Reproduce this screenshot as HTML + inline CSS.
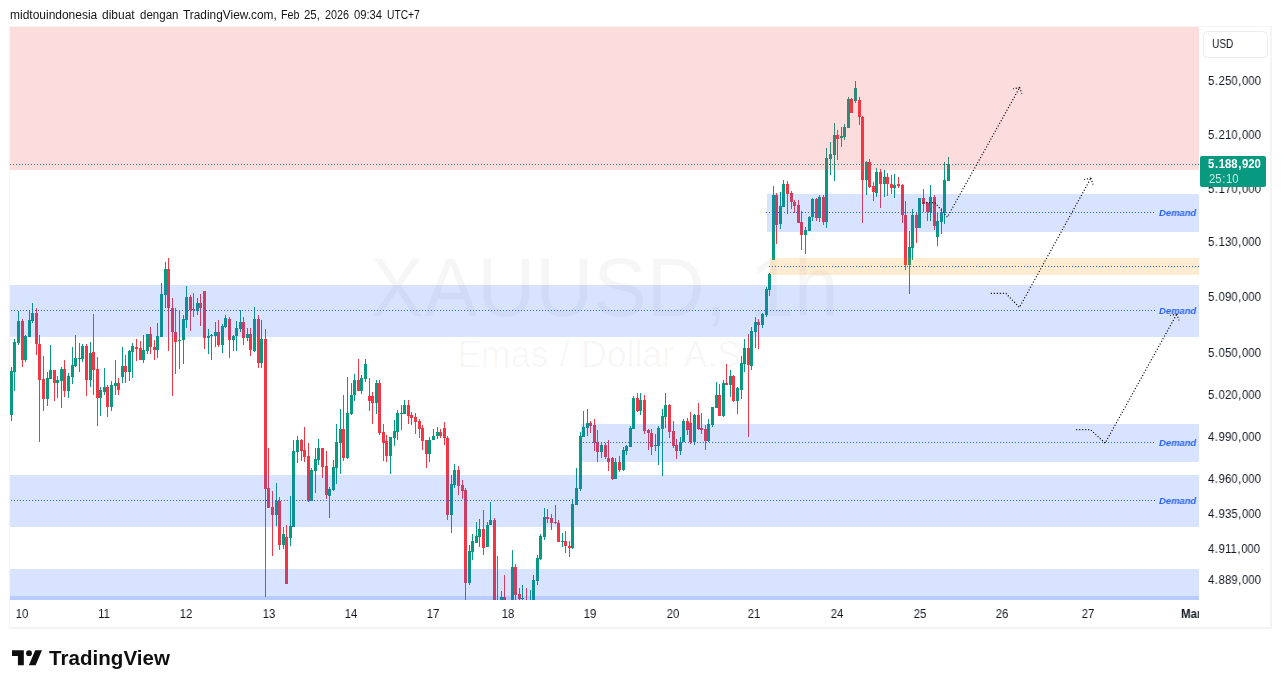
<!DOCTYPE html>
<html><head><meta charset="utf-8"><title>XAUUSD chart</title>
<style>
html,body{margin:0;padding:0;background:#fff;}
body{width:1281px;height:688px;position:relative;overflow:hidden;font-family:"Liberation Sans",sans-serif;color:#131722;}
.abs{position:absolute;}
.hdr,.pl,.tl,.dm,.usd span,.last,.brand{will-change:transform;}
.hdr{left:10px;top:6.8px;font-size:12px;line-height:16px;height:16px;width:500px;white-space:nowrap;color:#151515;}
.hdr span{position:absolute;top:0;transform-origin:0 0;white-space:nowrap;}
.frame{left:9px;top:26px;width:1260px;height:600px;border:solid #f4f4f4;border-width:1px 2px 2px 1px;box-sizing:content-box;}
.pane{left:10px;top:27px;width:1189px;height:573px;overflow:hidden;}
.zone{position:absolute;}
.pl{position:absolute;left:1208.3px;font-size:12px;line-height:14px;height:14px;white-space:nowrap;color:#131722;transform:scaleX(0.943);transform-origin:0 0;}
.p{margin:0 0.67px;}
.tl{position:absolute;top:606.6px;font-size:12px;line-height:14px;height:14px;white-space:nowrap;color:#131722;transform:translateX(-50%) scaleX(0.943);}
.dm{position:absolute;left:1158.5px;font-size:9.7px;line-height:12px;height:12px;font-weight:bold;font-style:italic;color:#2962ff;white-space:nowrap;transform:scaleX(0.975);transform-origin:0 0;}
.wm{position:absolute;left:10px;width:1189px;text-align:center;color:rgba(0,0,0,0.035);white-space:nowrap;}
.usd{left:1202.5px;top:30.5px;width:63px;height:25px;border:1px solid #ececf0;border-radius:4.5px;}
.usd span{position:absolute;left:8px;top:5.3px;font-size:12px;line-height:14px;transform:scaleX(0.84);transform-origin:0 0;color:#131722;}
.last{left:1200px;top:156px;width:66px;height:31px;background:#089981;border-radius:2px;color:#fff;}
.last b{position:absolute;left:8.3px;top:1.0px;font-size:12px;line-height:14px;font-weight:bold;transform:scaleX(0.943);transform-origin:0 0;white-space:nowrap;}
.last i{position:absolute;left:8.5px;top:15.5px;font-size:12px;line-height:14px;font-style:normal;color:rgba(255,255,255,0.78);transform:scaleX(0.943);transform-origin:0 0;white-space:nowrap;}
.logo{left:12px;top:646.7px;}
.brand{left:49px;top:645.5px;font-size:20.5px;line-height:24px;font-weight:bold;color:#0e0e0e;letter-spacing:0.05px;white-space:nowrap;}
</style></head><body>

<div class="abs hdr">
<span style="left:-0.1px;transform:scaleX(0.9986)">midtouindonesia</span>
<span style="left:92.0px;transform:scaleX(0.9982)">dibuat</span>
<span style="left:130.1px;transform:scaleX(0.9601)">dengan</span>
<span style="left:172.5px;transform:scaleX(0.9896)">TradingView.com,</span>
<span style="left:270.5px;transform:scaleX(0.8905)">Feb</span>
<span style="left:294.3px;transform:scaleX(0.9541)">25,</span>
<span style="left:314.6px;transform:scaleX(0.8993)">2026</span>
<span style="left:343.6px;transform:scaleX(0.9354)">09:34</span>
<span style="left:376.9px;transform:scaleX(0.8560)">UTC+7</span>
</div>
<div class="abs frame"></div>
<div class="abs pane">
<div class="wm" style="left:0;top:215.98px;font-size:80.3px;line-height:90px;transform:scaleY(1.05);transform-origin:0 72.82px">XAUUSD, 1h</div>
<div class="wm" style="left:-0.5px;top:307.70px;font-size:35.5px;word-spacing:1.7px;line-height:40px;transform:scaleY(1.05);transform-origin:0 32.30px">Emas / Dollar A.S.</div>
<svg class="abs" style="left:0;top:0" width="1189" height="573" viewBox="10 27 1189 573" shape-rendering="crispEdges">
<rect x="11" y="367" width="1" height="54" fill="#089981"/>
<rect x="10" y="371" width="3" height="44" fill="#089981"/>
<rect x="14" y="339" width="1" height="52" fill="#089981"/>
<rect x="13" y="342" width="3" height="30" fill="#089981"/>
<rect x="18" y="311" width="1" height="34" fill="#089981"/>
<rect x="17" y="321" width="3" height="22" fill="#089981"/>
<rect x="22" y="319" width="1" height="48" fill="#f23645"/>
<rect x="21" y="321" width="3" height="39" fill="#f23645"/>
<rect x="25" y="335" width="1" height="27" fill="#089981"/>
<rect x="24" y="336" width="3" height="24" fill="#089981"/>
<rect x="29" y="311" width="1" height="26" fill="#089981"/>
<rect x="28" y="320" width="3" height="17" fill="#089981"/>
<rect x="32" y="303" width="1" height="20" fill="#089981"/>
<rect x="31" y="313" width="3" height="8" fill="#089981"/>
<rect x="36" y="308" width="1" height="47" fill="#f23645"/>
<rect x="35" y="313" width="3" height="31" fill="#f23645"/>
<rect x="39" y="335" width="1" height="107" fill="#f23645"/>
<rect x="38" y="344" width="3" height="36" fill="#f23645"/>
<rect x="43" y="356" width="1" height="55" fill="#f23645"/>
<rect x="42" y="379" width="3" height="20" fill="#f23645"/>
<rect x="47" y="372" width="1" height="34" fill="#089981"/>
<rect x="46" y="378" width="3" height="21" fill="#089981"/>
<rect x="50" y="345" width="1" height="34" fill="#089981"/>
<rect x="49" y="370" width="3" height="9" fill="#089981"/>
<rect x="54" y="370" width="1" height="31" fill="#f23645"/>
<rect x="53" y="370" width="3" height="13" fill="#f23645"/>
<rect x="57" y="376" width="1" height="22" fill="#089981"/>
<rect x="56" y="380" width="3" height="3" fill="#089981"/>
<rect x="61" y="367" width="1" height="41" fill="#089981"/>
<rect x="60" y="369" width="3" height="12" fill="#089981"/>
<rect x="64" y="360" width="1" height="37" fill="#f23645"/>
<rect x="63" y="369" width="3" height="22" fill="#f23645"/>
<rect x="68" y="373" width="1" height="25" fill="#089981"/>
<rect x="67" y="376" width="3" height="15" fill="#089981"/>
<rect x="72" y="347" width="1" height="37" fill="#089981"/>
<rect x="71" y="365" width="3" height="12" fill="#089981"/>
<rect x="75" y="335" width="1" height="32" fill="#089981"/>
<rect x="74" y="358" width="3" height="8" fill="#089981"/>
<rect x="79" y="343" width="1" height="29" fill="#089981"/>
<rect x="78" y="358" width="3" height="1" fill="#089981"/>
<rect x="82" y="344" width="1" height="18" fill="#089981"/>
<rect x="81" y="346" width="3" height="13" fill="#089981"/>
<rect x="86" y="344" width="1" height="52" fill="#f23645"/>
<rect x="85" y="346" width="3" height="34" fill="#f23645"/>
<rect x="90" y="342" width="1" height="45" fill="#089981"/>
<rect x="89" y="353" width="3" height="27" fill="#089981"/>
<rect x="93" y="314" width="1" height="81" fill="#f23645"/>
<rect x="92" y="352" width="3" height="18" fill="#f23645"/>
<rect x="97" y="357" width="1" height="69" fill="#f23645"/>
<rect x="96" y="369" width="3" height="29" fill="#f23645"/>
<rect x="100" y="387" width="1" height="29" fill="#089981"/>
<rect x="99" y="390" width="3" height="8" fill="#089981"/>
<rect x="104" y="368" width="1" height="27" fill="#089981"/>
<rect x="103" y="387" width="3" height="5" fill="#089981"/>
<rect x="107" y="385" width="1" height="32" fill="#f23645"/>
<rect x="106" y="387" width="3" height="20" fill="#f23645"/>
<rect x="111" y="381" width="1" height="30" fill="#089981"/>
<rect x="110" y="385" width="3" height="22" fill="#089981"/>
<rect x="115" y="360" width="1" height="35" fill="#089981"/>
<rect x="114" y="383" width="3" height="3" fill="#089981"/>
<rect x="118" y="378" width="1" height="17" fill="#f23645"/>
<rect x="117" y="383" width="3" height="7" fill="#f23645"/>
<rect x="122" y="347" width="1" height="36" fill="#089981"/>
<rect x="121" y="366" width="3" height="11" fill="#089981"/>
<rect x="125" y="355" width="1" height="28" fill="#f23645"/>
<rect x="124" y="366" width="3" height="6" fill="#f23645"/>
<rect x="129" y="350" width="1" height="31" fill="#089981"/>
<rect x="128" y="351" width="3" height="21" fill="#089981"/>
<rect x="132" y="343" width="1" height="35" fill="#089981"/>
<rect x="131" y="346" width="3" height="6" fill="#089981"/>
<rect x="136" y="339" width="1" height="22" fill="#f23645"/>
<rect x="135" y="347" width="3" height="2" fill="#f23645"/>
<rect x="140" y="341" width="1" height="19" fill="#f23645"/>
<rect x="139" y="348" width="3" height="12" fill="#f23645"/>
<rect x="143" y="335" width="1" height="28" fill="#089981"/>
<rect x="142" y="350" width="3" height="10" fill="#089981"/>
<rect x="147" y="334" width="1" height="20" fill="#089981"/>
<rect x="146" y="334" width="3" height="17" fill="#089981"/>
<rect x="150" y="327" width="1" height="27" fill="#f23645"/>
<rect x="149" y="334" width="3" height="13" fill="#f23645"/>
<rect x="154" y="340" width="1" height="20" fill="#f23645"/>
<rect x="153" y="347" width="3" height="3" fill="#f23645"/>
<rect x="157" y="323" width="1" height="35" fill="#089981"/>
<rect x="156" y="336" width="3" height="14" fill="#089981"/>
<rect x="161" y="283" width="1" height="54" fill="#089981"/>
<rect x="160" y="294" width="3" height="43" fill="#089981"/>
<rect x="165" y="262" width="1" height="46" fill="#089981"/>
<rect x="164" y="269" width="3" height="26" fill="#089981"/>
<rect x="168" y="258" width="1" height="93" fill="#f23645"/>
<rect x="167" y="269" width="3" height="39" fill="#f23645"/>
<rect x="172" y="298" width="1" height="98" fill="#f23645"/>
<rect x="171" y="308" width="3" height="24" fill="#f23645"/>
<rect x="175" y="308" width="1" height="66" fill="#f23645"/>
<rect x="174" y="332" width="3" height="10" fill="#f23645"/>
<rect x="179" y="310" width="1" height="59" fill="#089981"/>
<rect x="178" y="340" width="3" height="1" fill="#089981"/>
<rect x="183" y="315" width="1" height="49" fill="#089981"/>
<rect x="182" y="319" width="3" height="21" fill="#089981"/>
<rect x="186" y="286" width="1" height="42" fill="#089981"/>
<rect x="185" y="297" width="3" height="23" fill="#089981"/>
<rect x="190" y="295" width="1" height="36" fill="#f23645"/>
<rect x="189" y="297" width="3" height="13" fill="#f23645"/>
<rect x="193" y="293" width="1" height="24" fill="#f23645"/>
<rect x="192" y="309" width="3" height="1" fill="#f23645"/>
<rect x="197" y="298" width="1" height="17" fill="#089981"/>
<rect x="196" y="303" width="3" height="8" fill="#089981"/>
<rect x="200" y="294" width="1" height="32" fill="#f23645"/>
<rect x="199" y="303" width="3" height="5" fill="#f23645"/>
<rect x="204" y="291" width="1" height="58" fill="#f23645"/>
<rect x="203" y="291" width="3" height="47" fill="#f23645"/>
<rect x="208" y="329" width="1" height="25" fill="#089981"/>
<rect x="207" y="336" width="3" height="2" fill="#089981"/>
<rect x="211" y="334" width="1" height="26" fill="#089981"/>
<rect x="210" y="335" width="3" height="1" fill="#089981"/>
<rect x="215" y="322" width="1" height="25" fill="#089981"/>
<rect x="214" y="332" width="3" height="4" fill="#089981"/>
<rect x="218" y="320" width="1" height="27" fill="#f23645"/>
<rect x="217" y="332" width="3" height="13" fill="#f23645"/>
<rect x="222" y="324" width="1" height="29" fill="#089981"/>
<rect x="221" y="326" width="3" height="19" fill="#089981"/>
<rect x="225" y="315" width="1" height="13" fill="#089981"/>
<rect x="224" y="318" width="3" height="9" fill="#089981"/>
<rect x="229" y="317" width="1" height="41" fill="#f23645"/>
<rect x="228" y="319" width="3" height="21" fill="#f23645"/>
<rect x="233" y="335" width="1" height="16" fill="#089981"/>
<rect x="232" y="336" width="3" height="4" fill="#089981"/>
<rect x="236" y="321" width="1" height="30" fill="#089981"/>
<rect x="235" y="328" width="3" height="8" fill="#089981"/>
<rect x="240" y="310" width="1" height="22" fill="#089981"/>
<rect x="239" y="322" width="3" height="7" fill="#089981"/>
<rect x="243" y="317" width="1" height="28" fill="#f23645"/>
<rect x="242" y="322" width="3" height="16" fill="#f23645"/>
<rect x="247" y="328" width="1" height="13" fill="#089981"/>
<rect x="246" y="334" width="3" height="4" fill="#089981"/>
<rect x="250" y="328" width="1" height="28" fill="#f23645"/>
<rect x="249" y="334" width="3" height="16" fill="#f23645"/>
<rect x="254" y="307" width="1" height="45" fill="#089981"/>
<rect x="253" y="319" width="3" height="32" fill="#089981"/>
<rect x="258" y="315" width="1" height="53" fill="#f23645"/>
<rect x="257" y="319" width="3" height="44" fill="#f23645"/>
<rect x="261" y="320" width="1" height="48" fill="#089981"/>
<rect x="260" y="339" width="3" height="24" fill="#089981"/>
<rect x="265" y="329" width="1" height="268" fill="#f23645"/>
<rect x="264" y="339" width="3" height="150" fill="#f23645"/>
<rect x="268" y="448" width="1" height="60" fill="#f23645"/>
<rect x="267" y="488" width="3" height="20" fill="#f23645"/>
<rect x="272" y="491" width="1" height="65" fill="#f23645"/>
<rect x="271" y="507" width="3" height="8" fill="#f23645"/>
<rect x="276" y="483" width="1" height="43" fill="#089981"/>
<rect x="275" y="501" width="3" height="14" fill="#089981"/>
<rect x="279" y="497" width="1" height="53" fill="#f23645"/>
<rect x="278" y="501" width="3" height="44" fill="#f23645"/>
<rect x="283" y="527" width="1" height="22" fill="#089981"/>
<rect x="282" y="534" width="3" height="11" fill="#089981"/>
<rect x="286" y="525" width="1" height="59" fill="#f23645"/>
<rect x="285" y="537" width="3" height="47" fill="#f23645"/>
<rect x="290" y="496" width="1" height="50" fill="#089981"/>
<rect x="289" y="526" width="3" height="12" fill="#089981"/>
<rect x="293" y="440" width="1" height="87" fill="#089981"/>
<rect x="292" y="451" width="3" height="76" fill="#089981"/>
<rect x="297" y="436" width="1" height="27" fill="#089981"/>
<rect x="296" y="440" width="3" height="12" fill="#089981"/>
<rect x="301" y="439" width="1" height="22" fill="#f23645"/>
<rect x="300" y="440" width="3" height="11" fill="#f23645"/>
<rect x="304" y="427" width="1" height="35" fill="#f23645"/>
<rect x="303" y="450" width="3" height="7" fill="#f23645"/>
<rect x="308" y="443" width="1" height="59" fill="#f23645"/>
<rect x="307" y="456" width="3" height="45" fill="#f23645"/>
<rect x="311" y="468" width="1" height="33" fill="#089981"/>
<rect x="310" y="470" width="3" height="31" fill="#089981"/>
<rect x="315" y="448" width="1" height="45" fill="#089981"/>
<rect x="314" y="459" width="3" height="12" fill="#089981"/>
<rect x="318" y="439" width="1" height="26" fill="#089981"/>
<rect x="317" y="448" width="3" height="12" fill="#089981"/>
<rect x="322" y="448" width="1" height="30" fill="#f23645"/>
<rect x="321" y="448" width="3" height="19" fill="#f23645"/>
<rect x="326" y="451" width="1" height="48" fill="#f23645"/>
<rect x="325" y="466" width="3" height="29" fill="#f23645"/>
<rect x="329" y="487" width="1" height="31" fill="#089981"/>
<rect x="328" y="489" width="3" height="7" fill="#089981"/>
<rect x="333" y="460" width="1" height="31" fill="#089981"/>
<rect x="332" y="467" width="3" height="23" fill="#089981"/>
<rect x="336" y="424" width="1" height="60" fill="#089981"/>
<rect x="335" y="442" width="3" height="26" fill="#089981"/>
<rect x="340" y="409" width="1" height="65" fill="#089981"/>
<rect x="339" y="429" width="3" height="14" fill="#089981"/>
<rect x="343" y="395" width="1" height="66" fill="#f23645"/>
<rect x="342" y="429" width="3" height="29" fill="#f23645"/>
<rect x="347" y="377" width="1" height="82" fill="#089981"/>
<rect x="346" y="413" width="3" height="45" fill="#089981"/>
<rect x="351" y="383" width="1" height="32" fill="#089981"/>
<rect x="350" y="395" width="3" height="19" fill="#089981"/>
<rect x="354" y="374" width="1" height="27" fill="#089981"/>
<rect x="353" y="380" width="3" height="15" fill="#089981"/>
<rect x="358" y="359" width="1" height="32" fill="#f23645"/>
<rect x="357" y="380" width="3" height="11" fill="#f23645"/>
<rect x="361" y="375" width="1" height="19" fill="#089981"/>
<rect x="360" y="378" width="3" height="13" fill="#089981"/>
<rect x="365" y="359" width="1" height="23" fill="#089981"/>
<rect x="364" y="364" width="3" height="15" fill="#089981"/>
<rect x="369" y="378" width="1" height="33" fill="#f23645"/>
<rect x="368" y="396" width="3" height="5" fill="#f23645"/>
<rect x="372" y="392" width="1" height="32" fill="#f23645"/>
<rect x="371" y="396" width="3" height="7" fill="#f23645"/>
<rect x="376" y="380" width="1" height="34" fill="#089981"/>
<rect x="375" y="383" width="3" height="20" fill="#089981"/>
<rect x="379" y="380" width="1" height="55" fill="#f23645"/>
<rect x="378" y="383" width="3" height="50" fill="#f23645"/>
<rect x="383" y="424" width="1" height="37" fill="#f23645"/>
<rect x="382" y="432" width="3" height="11" fill="#f23645"/>
<rect x="386" y="435" width="1" height="27" fill="#f23645"/>
<rect x="385" y="441" width="3" height="15" fill="#f23645"/>
<rect x="390" y="437" width="1" height="37" fill="#089981"/>
<rect x="389" y="437" width="3" height="19" fill="#089981"/>
<rect x="394" y="420" width="1" height="26" fill="#089981"/>
<rect x="393" y="431" width="3" height="7" fill="#089981"/>
<rect x="397" y="410" width="1" height="30" fill="#089981"/>
<rect x="396" y="413" width="3" height="19" fill="#089981"/>
<rect x="401" y="405" width="1" height="25" fill="#089981"/>
<rect x="400" y="413" width="3" height="1" fill="#089981"/>
<rect x="404" y="400" width="1" height="14" fill="#089981"/>
<rect x="403" y="405" width="3" height="9" fill="#089981"/>
<rect x="408" y="400" width="1" height="24" fill="#f23645"/>
<rect x="407" y="405" width="3" height="11" fill="#f23645"/>
<rect x="411" y="412" width="1" height="13" fill="#f23645"/>
<rect x="410" y="415" width="3" height="3" fill="#f23645"/>
<rect x="415" y="413" width="1" height="21" fill="#f23645"/>
<rect x="414" y="417" width="3" height="5" fill="#f23645"/>
<rect x="419" y="419" width="1" height="19" fill="#f23645"/>
<rect x="418" y="421" width="3" height="8" fill="#f23645"/>
<rect x="422" y="425" width="1" height="25" fill="#f23645"/>
<rect x="421" y="428" width="3" height="13" fill="#f23645"/>
<rect x="426" y="440" width="1" height="28" fill="#f23645"/>
<rect x="425" y="440" width="3" height="14" fill="#f23645"/>
<rect x="429" y="437" width="1" height="25" fill="#089981"/>
<rect x="428" y="440" width="3" height="14" fill="#089981"/>
<rect x="433" y="429" width="1" height="11" fill="#089981"/>
<rect x="432" y="436" width="3" height="4" fill="#089981"/>
<rect x="437" y="427" width="1" height="12" fill="#089981"/>
<rect x="436" y="432" width="3" height="4" fill="#089981"/>
<rect x="440" y="429" width="1" height="9" fill="#f23645"/>
<rect x="439" y="432" width="3" height="4" fill="#f23645"/>
<rect x="444" y="422" width="1" height="23" fill="#f23645"/>
<rect x="443" y="428" width="3" height="10" fill="#f23645"/>
<rect x="447" y="436" width="1" height="84" fill="#f23645"/>
<rect x="446" y="438" width="3" height="77" fill="#f23645"/>
<rect x="451" y="475" width="1" height="58" fill="#089981"/>
<rect x="450" y="484" width="3" height="31" fill="#089981"/>
<rect x="454" y="464" width="1" height="24" fill="#089981"/>
<rect x="453" y="470" width="3" height="15" fill="#089981"/>
<rect x="458" y="466" width="1" height="29" fill="#f23645"/>
<rect x="457" y="470" width="3" height="16" fill="#f23645"/>
<rect x="462" y="480" width="1" height="19" fill="#f23645"/>
<rect x="461" y="485" width="3" height="6" fill="#f23645"/>
<rect x="465" y="488" width="1" height="112" fill="#f23645"/>
<rect x="464" y="490" width="3" height="93" fill="#f23645"/>
<rect x="469" y="545" width="1" height="40" fill="#089981"/>
<rect x="468" y="551" width="3" height="32" fill="#089981"/>
<rect x="472" y="534" width="1" height="26" fill="#089981"/>
<rect x="471" y="541" width="3" height="11" fill="#089981"/>
<rect x="476" y="522" width="1" height="21" fill="#089981"/>
<rect x="475" y="536" width="3" height="7" fill="#089981"/>
<rect x="479" y="519" width="1" height="28" fill="#089981"/>
<rect x="478" y="529" width="3" height="8" fill="#089981"/>
<rect x="483" y="510" width="1" height="45" fill="#f23645"/>
<rect x="482" y="529" width="3" height="19" fill="#f23645"/>
<rect x="487" y="522" width="1" height="25" fill="#089981"/>
<rect x="486" y="525" width="3" height="22" fill="#089981"/>
<rect x="490" y="502" width="1" height="23" fill="#089981"/>
<rect x="489" y="520" width="3" height="5" fill="#089981"/>
<rect x="494" y="518" width="1" height="85" fill="#f23645"/>
<rect x="493" y="520" width="3" height="83" fill="#f23645"/>
<rect x="497" y="556" width="1" height="47" fill="#f23645"/>
<rect x="496" y="602" width="3" height="1" fill="#f23645"/>
<rect x="501" y="591" width="1" height="12" fill="#089981"/>
<rect x="500" y="597" width="3" height="6" fill="#089981"/>
<rect x="504" y="575" width="1" height="28" fill="#f23645"/>
<rect x="503" y="597" width="3" height="6" fill="#f23645"/>
<rect x="512" y="550" width="1" height="53" fill="#089981"/>
<rect x="511" y="567" width="3" height="36" fill="#089981"/>
<rect x="515" y="564" width="1" height="39" fill="#f23645"/>
<rect x="514" y="567" width="3" height="28" fill="#f23645"/>
<rect x="519" y="588" width="1" height="15" fill="#f23645"/>
<rect x="518" y="594" width="3" height="5" fill="#f23645"/>
<rect x="522" y="585" width="1" height="18" fill="#089981"/>
<rect x="521" y="598" width="3" height="1" fill="#089981"/>
<rect x="526" y="588" width="1" height="15" fill="#f23645"/>
<rect x="525" y="601" width="3" height="2" fill="#f23645"/>
<rect x="530" y="590" width="1" height="13" fill="#089981"/>
<rect x="529" y="601" width="3" height="2" fill="#089981"/>
<rect x="533" y="575" width="1" height="28" fill="#089981"/>
<rect x="532" y="580" width="3" height="23" fill="#089981"/>
<rect x="537" y="555" width="1" height="30" fill="#089981"/>
<rect x="536" y="558" width="3" height="23" fill="#089981"/>
<rect x="540" y="534" width="1" height="26" fill="#089981"/>
<rect x="539" y="536" width="3" height="23" fill="#089981"/>
<rect x="544" y="508" width="1" height="32" fill="#089981"/>
<rect x="543" y="517" width="3" height="20" fill="#089981"/>
<rect x="547" y="509" width="1" height="14" fill="#f23645"/>
<rect x="546" y="517" width="3" height="2" fill="#f23645"/>
<rect x="551" y="514" width="1" height="16" fill="#f23645"/>
<rect x="550" y="518" width="3" height="5" fill="#f23645"/>
<rect x="555" y="505" width="1" height="19" fill="#f23645"/>
<rect x="554" y="522" width="3" height="1" fill="#f23645"/>
<rect x="558" y="520" width="1" height="22" fill="#f23645"/>
<rect x="557" y="523" width="3" height="19" fill="#f23645"/>
<rect x="562" y="533" width="1" height="14" fill="#089981"/>
<rect x="561" y="541" width="3" height="1" fill="#089981"/>
<rect x="565" y="531" width="1" height="22" fill="#f23645"/>
<rect x="564" y="541" width="3" height="5" fill="#f23645"/>
<rect x="569" y="541" width="1" height="16" fill="#f23645"/>
<rect x="568" y="546" width="3" height="2" fill="#f23645"/>
<rect x="572" y="499" width="1" height="50" fill="#089981"/>
<rect x="571" y="504" width="3" height="44" fill="#089981"/>
<rect x="576" y="468" width="1" height="37" fill="#089981"/>
<rect x="575" y="488" width="3" height="17" fill="#089981"/>
<rect x="580" y="432" width="1" height="59" fill="#089981"/>
<rect x="579" y="436" width="3" height="53" fill="#089981"/>
<rect x="583" y="411" width="1" height="26" fill="#089981"/>
<rect x="582" y="427" width="3" height="10" fill="#089981"/>
<rect x="587" y="409" width="1" height="27" fill="#089981"/>
<rect x="586" y="423" width="3" height="5" fill="#089981"/>
<rect x="590" y="421" width="1" height="12" fill="#f23645"/>
<rect x="589" y="423" width="3" height="3" fill="#f23645"/>
<rect x="594" y="419" width="1" height="32" fill="#f23645"/>
<rect x="593" y="425" width="3" height="18" fill="#f23645"/>
<rect x="597" y="430" width="1" height="32" fill="#f23645"/>
<rect x="596" y="442" width="3" height="10" fill="#f23645"/>
<rect x="601" y="442" width="1" height="16" fill="#089981"/>
<rect x="600" y="445" width="3" height="7" fill="#089981"/>
<rect x="605" y="443" width="1" height="16" fill="#f23645"/>
<rect x="604" y="445" width="3" height="12" fill="#f23645"/>
<rect x="608" y="440" width="1" height="31" fill="#f23645"/>
<rect x="607" y="458" width="3" height="4" fill="#f23645"/>
<rect x="612" y="457" width="1" height="23" fill="#f23645"/>
<rect x="611" y="458" width="3" height="21" fill="#f23645"/>
<rect x="615" y="458" width="1" height="21" fill="#089981"/>
<rect x="614" y="462" width="3" height="17" fill="#089981"/>
<rect x="619" y="456" width="1" height="16" fill="#f23645"/>
<rect x="618" y="462" width="3" height="8" fill="#f23645"/>
<rect x="623" y="447" width="1" height="24" fill="#089981"/>
<rect x="622" y="450" width="3" height="20" fill="#089981"/>
<rect x="626" y="445" width="1" height="10" fill="#089981"/>
<rect x="625" y="446" width="3" height="5" fill="#089981"/>
<rect x="630" y="426" width="1" height="21" fill="#089981"/>
<rect x="629" y="428" width="3" height="19" fill="#089981"/>
<rect x="633" y="396" width="1" height="33" fill="#089981"/>
<rect x="632" y="398" width="3" height="31" fill="#089981"/>
<rect x="637" y="393" width="1" height="19" fill="#f23645"/>
<rect x="636" y="398" width="3" height="13" fill="#f23645"/>
<rect x="640" y="393" width="1" height="22" fill="#089981"/>
<rect x="639" y="400" width="3" height="11" fill="#089981"/>
<rect x="644" y="395" width="1" height="39" fill="#f23645"/>
<rect x="643" y="400" width="3" height="31" fill="#f23645"/>
<rect x="648" y="429" width="1" height="21" fill="#f23645"/>
<rect x="647" y="430" width="3" height="3" fill="#f23645"/>
<rect x="651" y="429" width="1" height="26" fill="#f23645"/>
<rect x="650" y="433" width="3" height="14" fill="#f23645"/>
<rect x="655" y="434" width="1" height="17" fill="#089981"/>
<rect x="654" y="445" width="3" height="1" fill="#089981"/>
<rect x="658" y="426" width="1" height="39" fill="#089981"/>
<rect x="657" y="428" width="3" height="18" fill="#089981"/>
<rect x="662" y="409" width="1" height="67" fill="#089981"/>
<rect x="661" y="416" width="3" height="13" fill="#089981"/>
<rect x="665" y="393" width="1" height="35" fill="#089981"/>
<rect x="664" y="405" width="3" height="12" fill="#089981"/>
<rect x="669" y="404" width="1" height="34" fill="#f23645"/>
<rect x="668" y="405" width="3" height="27" fill="#f23645"/>
<rect x="673" y="421" width="1" height="27" fill="#f23645"/>
<rect x="672" y="431" width="3" height="15" fill="#f23645"/>
<rect x="676" y="439" width="1" height="20" fill="#f23645"/>
<rect x="675" y="445" width="3" height="6" fill="#f23645"/>
<rect x="680" y="437" width="1" height="18" fill="#089981"/>
<rect x="679" y="442" width="3" height="9" fill="#089981"/>
<rect x="683" y="419" width="1" height="23" fill="#089981"/>
<rect x="682" y="421" width="3" height="21" fill="#089981"/>
<rect x="687" y="418" width="1" height="17" fill="#f23645"/>
<rect x="686" y="421" width="3" height="9" fill="#f23645"/>
<rect x="690" y="412" width="1" height="32" fill="#f23645"/>
<rect x="689" y="423" width="3" height="19" fill="#f23645"/>
<rect x="694" y="414" width="1" height="31" fill="#089981"/>
<rect x="693" y="415" width="3" height="27" fill="#089981"/>
<rect x="698" y="403" width="1" height="27" fill="#f23645"/>
<rect x="697" y="415" width="3" height="14" fill="#f23645"/>
<rect x="701" y="413" width="1" height="21" fill="#f23645"/>
<rect x="700" y="428" width="3" height="2" fill="#f23645"/>
<rect x="705" y="425" width="1" height="25" fill="#f23645"/>
<rect x="704" y="429" width="3" height="12" fill="#f23645"/>
<rect x="708" y="419" width="1" height="23" fill="#089981"/>
<rect x="707" y="424" width="3" height="17" fill="#089981"/>
<rect x="712" y="407" width="1" height="20" fill="#089981"/>
<rect x="711" y="407" width="3" height="18" fill="#089981"/>
<rect x="716" y="382" width="1" height="26" fill="#089981"/>
<rect x="715" y="395" width="3" height="13" fill="#089981"/>
<rect x="719" y="384" width="1" height="32" fill="#f23645"/>
<rect x="718" y="395" width="3" height="21" fill="#f23645"/>
<rect x="723" y="380" width="1" height="37" fill="#089981"/>
<rect x="722" y="383" width="3" height="33" fill="#089981"/>
<rect x="726" y="364" width="1" height="21" fill="#f23645"/>
<rect x="725" y="383" width="3" height="2" fill="#f23645"/>
<rect x="730" y="370" width="1" height="27" fill="#089981"/>
<rect x="729" y="376" width="3" height="9" fill="#089981"/>
<rect x="733" y="375" width="1" height="27" fill="#f23645"/>
<rect x="732" y="376" width="3" height="25" fill="#f23645"/>
<rect x="737" y="387" width="1" height="27" fill="#089981"/>
<rect x="736" y="388" width="3" height="13" fill="#089981"/>
<rect x="741" y="356" width="1" height="43" fill="#089981"/>
<rect x="740" y="363" width="3" height="27" fill="#089981"/>
<rect x="744" y="339" width="1" height="33" fill="#089981"/>
<rect x="743" y="348" width="3" height="16" fill="#089981"/>
<rect x="748" y="334" width="1" height="103" fill="#f23645"/>
<rect x="747" y="348" width="3" height="17" fill="#f23645"/>
<rect x="751" y="327" width="1" height="43" fill="#089981"/>
<rect x="750" y="331" width="3" height="35" fill="#089981"/>
<rect x="755" y="317" width="1" height="31" fill="#089981"/>
<rect x="754" y="322" width="3" height="10" fill="#089981"/>
<rect x="758" y="319" width="1" height="30" fill="#f23645"/>
<rect x="757" y="322" width="3" height="3" fill="#f23645"/>
<rect x="762" y="313" width="1" height="15" fill="#089981"/>
<rect x="761" y="314" width="3" height="11" fill="#089981"/>
<rect x="766" y="287" width="1" height="30" fill="#089981"/>
<rect x="765" y="289" width="3" height="26" fill="#089981"/>
<rect x="769" y="273" width="1" height="23" fill="#089981"/>
<rect x="768" y="274" width="3" height="16" fill="#089981"/>
<rect x="773" y="186" width="1" height="74" fill="#089981"/>
<rect x="772" y="195" width="3" height="65" fill="#089981"/>
<rect x="776" y="193" width="1" height="51" fill="#f23645"/>
<rect x="775" y="195" width="3" height="30" fill="#f23645"/>
<rect x="780" y="192" width="1" height="37" fill="#089981"/>
<rect x="779" y="206" width="3" height="18" fill="#089981"/>
<rect x="783" y="180" width="1" height="27" fill="#089981"/>
<rect x="782" y="184" width="3" height="23" fill="#089981"/>
<rect x="787" y="181" width="1" height="33" fill="#f23645"/>
<rect x="786" y="184" width="3" height="10" fill="#f23645"/>
<rect x="791" y="191" width="1" height="18" fill="#f23645"/>
<rect x="790" y="193" width="3" height="9" fill="#f23645"/>
<rect x="794" y="200" width="1" height="13" fill="#f23645"/>
<rect x="793" y="202" width="3" height="4" fill="#f23645"/>
<rect x="798" y="200" width="1" height="23" fill="#f23645"/>
<rect x="797" y="205" width="3" height="18" fill="#f23645"/>
<rect x="801" y="211" width="1" height="39" fill="#f23645"/>
<rect x="800" y="222" width="3" height="13" fill="#f23645"/>
<rect x="805" y="227" width="1" height="27" fill="#089981"/>
<rect x="804" y="230" width="3" height="5" fill="#089981"/>
<rect x="809" y="216" width="1" height="15" fill="#089981"/>
<rect x="808" y="217" width="3" height="14" fill="#089981"/>
<rect x="812" y="198" width="1" height="23" fill="#089981"/>
<rect x="811" y="199" width="3" height="18" fill="#089981"/>
<rect x="816" y="198" width="1" height="23" fill="#f23645"/>
<rect x="815" y="199" width="3" height="19" fill="#f23645"/>
<rect x="819" y="195" width="1" height="27" fill="#089981"/>
<rect x="818" y="197" width="3" height="21" fill="#089981"/>
<rect x="823" y="195" width="1" height="30" fill="#f23645"/>
<rect x="822" y="197" width="3" height="25" fill="#f23645"/>
<rect x="826" y="148" width="1" height="80" fill="#089981"/>
<rect x="825" y="158" width="3" height="64" fill="#089981"/>
<rect x="830" y="142" width="1" height="33" fill="#089981"/>
<rect x="829" y="154" width="3" height="5" fill="#089981"/>
<rect x="834" y="123" width="1" height="58" fill="#089981"/>
<rect x="833" y="135" width="3" height="20" fill="#089981"/>
<rect x="837" y="130" width="1" height="30" fill="#f23645"/>
<rect x="836" y="135" width="3" height="4" fill="#f23645"/>
<rect x="841" y="127" width="1" height="20" fill="#089981"/>
<rect x="840" y="136" width="3" height="2" fill="#089981"/>
<rect x="844" y="124" width="1" height="16" fill="#089981"/>
<rect x="843" y="127" width="3" height="10" fill="#089981"/>
<rect x="848" y="97" width="1" height="31" fill="#089981"/>
<rect x="847" y="99" width="3" height="29" fill="#089981"/>
<rect x="851" y="98" width="1" height="15" fill="#f23645"/>
<rect x="850" y="99" width="3" height="14" fill="#f23645"/>
<rect x="855" y="81" width="1" height="22" fill="#089981"/>
<rect x="854" y="88" width="3" height="13" fill="#089981"/>
<rect x="859" y="97" width="1" height="28" fill="#f23645"/>
<rect x="858" y="100" width="3" height="17" fill="#f23645"/>
<rect x="862" y="116" width="1" height="107" fill="#f23645"/>
<rect x="861" y="117" width="3" height="63" fill="#f23645"/>
<rect x="866" y="161" width="1" height="34" fill="#089981"/>
<rect x="865" y="162" width="3" height="18" fill="#089981"/>
<rect x="869" y="159" width="1" height="29" fill="#f23645"/>
<rect x="868" y="162" width="3" height="25" fill="#f23645"/>
<rect x="873" y="182" width="1" height="19" fill="#f23645"/>
<rect x="872" y="186" width="3" height="6" fill="#f23645"/>
<rect x="876" y="168" width="1" height="29" fill="#089981"/>
<rect x="875" y="172" width="3" height="21" fill="#089981"/>
<rect x="880" y="169" width="1" height="39" fill="#f23645"/>
<rect x="879" y="172" width="3" height="12" fill="#f23645"/>
<rect x="884" y="170" width="1" height="27" fill="#089981"/>
<rect x="883" y="177" width="3" height="7" fill="#089981"/>
<rect x="887" y="173" width="1" height="23" fill="#f23645"/>
<rect x="886" y="177" width="3" height="7" fill="#f23645"/>
<rect x="891" y="175" width="1" height="19" fill="#f23645"/>
<rect x="890" y="184" width="3" height="4" fill="#f23645"/>
<rect x="894" y="174" width="1" height="24" fill="#089981"/>
<rect x="893" y="185" width="3" height="3" fill="#089981"/>
<rect x="898" y="177" width="1" height="11" fill="#f23645"/>
<rect x="897" y="184" width="3" height="2" fill="#f23645"/>
<rect x="902" y="184" width="1" height="39" fill="#f23645"/>
<rect x="901" y="185" width="3" height="30" fill="#f23645"/>
<rect x="905" y="201" width="1" height="69" fill="#f23645"/>
<rect x="904" y="215" width="3" height="50" fill="#f23645"/>
<rect x="909" y="231" width="1" height="63" fill="#089981"/>
<rect x="908" y="247" width="3" height="18" fill="#089981"/>
<rect x="912" y="209" width="1" height="51" fill="#089981"/>
<rect x="911" y="215" width="3" height="33" fill="#089981"/>
<rect x="916" y="213" width="1" height="30" fill="#f23645"/>
<rect x="915" y="215" width="3" height="13" fill="#f23645"/>
<rect x="919" y="198" width="1" height="30" fill="#089981"/>
<rect x="918" y="198" width="3" height="30" fill="#089981"/>
<rect x="923" y="189" width="1" height="23" fill="#f23645"/>
<rect x="922" y="198" width="3" height="6" fill="#f23645"/>
<rect x="927" y="202" width="1" height="19" fill="#f23645"/>
<rect x="926" y="203" width="3" height="9" fill="#f23645"/>
<rect x="930" y="185" width="1" height="36" fill="#089981"/>
<rect x="929" y="197" width="3" height="15" fill="#089981"/>
<rect x="934" y="195" width="1" height="35" fill="#f23645"/>
<rect x="933" y="197" width="3" height="29" fill="#f23645"/>
<rect x="937" y="213" width="1" height="33" fill="#089981"/>
<rect x="936" y="221" width="3" height="16" fill="#089981"/>
<rect x="941" y="208" width="1" height="26" fill="#089981"/>
<rect x="940" y="213" width="3" height="9" fill="#089981"/>
<rect x="944" y="162" width="1" height="62" fill="#089981"/>
<rect x="943" y="180" width="3" height="33" fill="#089981"/>
<rect x="948" y="157" width="1" height="24" fill="#089981"/>
<rect x="947" y="164" width="3" height="17" fill="#089981"/>
<path d="M10 164.5 H1199" stroke="#089981" stroke-width="1" stroke-dasharray="1 2" fill="none"/>
</svg>
<div class="zone" style="left:0px;top:0px;width:1189px;height:143px;background:rgba(242,54,69,0.175)"></div>
<div class="zone" style="left:757px;top:167px;width:432px;height:38px;background:rgba(41,98,255,0.18)"></div>
<div class="zone" style="left:760px;top:231px;width:429px;height:17px;background:rgba(255,152,0,0.18)"></div>
<div class="zone" style="left:0px;top:258px;width:1189px;height:52px;background:rgba(41,98,255,0.18)"></div>
<div class="zone" style="left:571px;top:397px;width:618px;height:38px;background:rgba(41,98,255,0.18)"></div>
<div class="zone" style="left:0px;top:448px;width:1189px;height:52px;background:rgba(41,98,255,0.18)"></div>
<div class="zone" style="left:0px;top:542px;width:1189px;height:31px;background:rgba(41,98,255,0.18)"></div>
<div class="zone" style="left:0px;top:569px;width:1189px;height:4px;background:rgba(41,98,255,0.18)"></div>
<svg class="abs" style="left:0;top:0" width="1189" height="573" viewBox="10 27 1189 573">
<g shape-rendering="crispEdges">
<path d="M766 212.5 H1155" stroke="#2962ff" stroke-width="1" stroke-dasharray="1 2" fill="none"/>
<path d="M769 266.5 H1199" stroke="#2962ff" stroke-width="1" stroke-dasharray="1 2" fill="none"/>
<path d="M11 310.5 H1155" stroke="#2962ff" stroke-width="1" stroke-dasharray="1 2" fill="none"/>
<path d="M580 442.5 H1155" stroke="#2962ff" stroke-width="1" stroke-dasharray="1 2" fill="none"/>
<path d="M11 500.5 H1155" stroke="#2962ff" stroke-width="1" stroke-dasharray="1 2" fill="none"/>
</g>
<path d="M923.0 202.6 L934.9 202.6 L947.3 217.2 L1019.7 87.4" fill="none" stroke="#000" stroke-width="1.2" stroke-dasharray="1.05 1.95"/>
<path d="M1019.7 87.4 L1021.9 93.8" fill="none" stroke="#000" stroke-width="1.2" stroke-dasharray="1.05 1.95"/>
<path d="M1019.7 87.4 L1013.1 88.9" fill="none" stroke="#000" stroke-width="1.2" stroke-dasharray="1.05 1.95"/>
<path d="M990.8 293.4 L1005.9 293.4 L1019.4 307.4 L1090.9 178.1" fill="none" stroke="#000" stroke-width="1.2" stroke-dasharray="1.05 1.95"/>
<path d="M1090.9 178.1 L1093.1 184.5" fill="none" stroke="#000" stroke-width="1.2" stroke-dasharray="1.05 1.95"/>
<path d="M1090.9 178.1 L1084.3 179.6" fill="none" stroke="#000" stroke-width="1.2" stroke-dasharray="1.05 1.95"/>
<path d="M1076.2 429.6 L1090.4 429.6 L1105.1 443.1 L1176.8 314.0" fill="none" stroke="#000" stroke-width="1.2" stroke-dasharray="1.05 1.95"/>
<path d="M1176.8 314.0 L1179.0 320.4" fill="none" stroke="#000" stroke-width="1.2" stroke-dasharray="1.05 1.95"/>
<path d="M1176.8 314.0 L1170.2 315.5" fill="none" stroke="#000" stroke-width="1.2" stroke-dasharray="1.05 1.95"/>
</svg>
<div class="dm" style="left:1148.5px;top:179.84px">Demand</div>
<div class="dm" style="left:1148.5px;top:277.99px">Demand</div>
<div class="dm" style="left:1148.5px;top:409.84px">Demand</div>
<div class="dm" style="left:1148.5px;top:467.99px">Demand</div>
</div>
<div class="pl" style="top:73.59px">5<span class="p">.</span>250<span class="p">,</span>000</div>
<div class="pl" style="top:127.59px">5<span class="p">.</span>210<span class="p">,</span>000</div>
<div class="pl" style="top:181.59px">5<span class="p">.</span>170<span class="p">,</span>000</div>
<div class="pl" style="top:235.34px">5<span class="p">.</span>130<span class="p">,</span>000</div>
<div class="pl" style="top:290.34px">5<span class="p">.</span>090<span class="p">,</span>000</div>
<div class="pl" style="top:346.34px">5<span class="p">.</span>050<span class="p">,</span>000</div>
<div class="pl" style="top:388.24px">5<span class="p">.</span>020<span class="p">,</span>000</div>
<div class="pl" style="top:430.34px">4<span class="p">.</span>990<span class="p">,</span>000</div>
<div class="pl" style="top:472.34px">4<span class="p">.</span>960<span class="p">,</span>000</div>
<div class="pl" style="top:507.34px">4<span class="p">.</span>935<span class="p">,</span>000</div>
<div class="pl" style="top:542.34px">4<span class="p">.</span>911<span class="p">,</span>000</div>
<div class="pl" style="top:573.34px">4<span class="p">.</span>889<span class="p">,</span>000</div>
<div class="abs usd"><span>USD</span></div>
<div class="abs last"><b>5<span class="p">.</span>188<span class="p">,</span>920</b><i>25<span class="p">:</span>10</i></div>
<div class="abs" style="left:10px;top:600px;width:1189px;height:27px;overflow:hidden">
<div class="tl" style="left:11.600000000000001px;top:6.6px">10</div>
<div class="tl" style="left:93.6px;top:6.6px">11</div>
<div class="tl" style="left:176.3px;top:6.6px">12</div>
<div class="tl" style="left:258.7px;top:6.6px">13</div>
<div class="tl" style="left:340.9px;top:6.6px">14</div>
<div class="tl" style="left:423.4px;top:6.6px">17</div>
<div class="tl" style="left:497.7px;top:6.6px">18</div>
<div class="tl" style="left:580.2px;top:6.6px">19</div>
<div class="tl" style="left:662.6px;top:6.6px">20</div>
<div class="tl" style="left:743.9px;top:6.6px">21</div>
<div class="tl" style="left:827.2px;top:6.6px">24</div>
<div class="tl" style="left:909.7px;top:6.6px">25</div>
<div class="tl" style="left:992px;top:6.6px">26</div>
<div class="tl" style="left:1077.5px;top:6.6px">27</div>
<div class="tl" style="left:1171.0px;top:6.6px;transform:scaleX(0.96);transform-origin:0 0;font-weight:bold">Mar</div>
</div>
<svg class="abs logo" width="30.42" height="23.2" viewBox="0 0 36 28" preserveAspectRatio="none"><path d="M14 22H7V11H0V4h14v18zM28 22h-8l7.5-18h8L28 22z" fill="#0e0e0e"/><circle cx="20.15" cy="7.45" r="3.45" fill="#0e0e0e"/></svg>
<div class="abs brand">TradingView</div>
</body></html>
